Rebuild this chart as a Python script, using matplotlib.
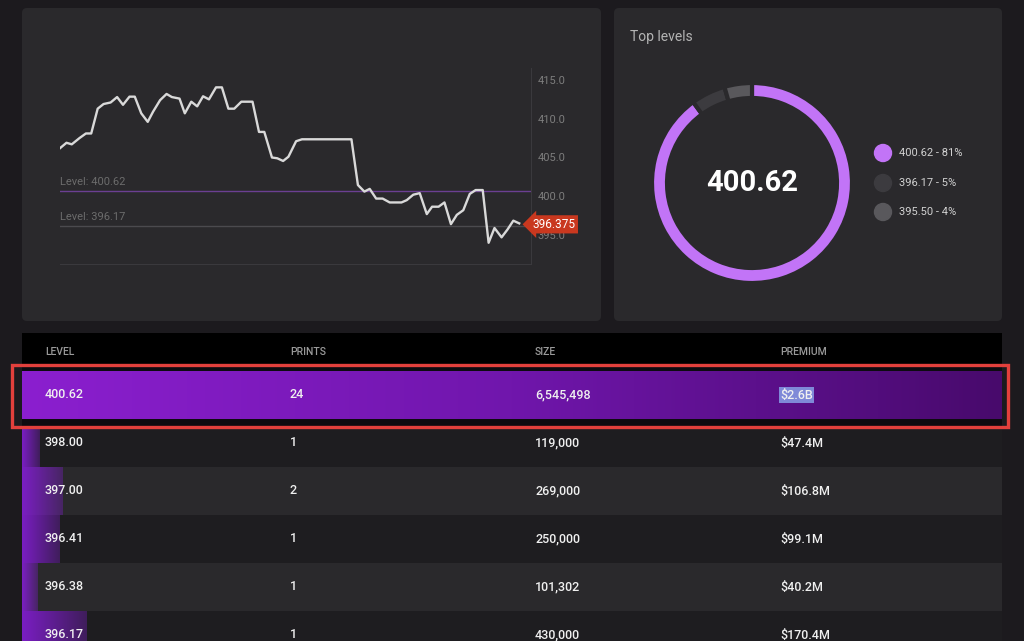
import matplotlib.pyplot as plt
import matplotlib.transforms as mtransforms
from matplotlib.patches import FancyBboxPatch, Rectangle
import numpy as np

plt.rcParams['font.family'] = ['Roboto', 'DejaVu Sans']

# price line (x = chart minutes, y = price)
t = [0, 1.1, 2.0, 3.3, 4.4, 5.3, 6.4, 7.4, 8.6, 9.7, 10.7, 11.8, 12.7, 13.8,
     14.9, 15.8, 17.0, 18.1, 19.0, 20.3, 21.2, 22.3, 23.3, 24.3, 25.3, 26.5,
     27.5, 28.6, 29.6, 30.8, 32.7, 33.8, 34.7, 36.0, 36.9, 37.9, 38.8, 40.1,
     41.1, 49.5, 50.6, 51.7, 52.6, 53.7, 54.8, 56.0, 58.0, 58.9, 60.0, 61.1,
     62.3, 63.2, 64.3, 65.3, 66.4, 67.4, 68.5, 69.6, 70.6, 71.8, 72.8, 73.8,
     75.0, 76.0, 77.0, 78.0]
price = [406.2, 406.9, 406.7, 407.5, 408.1, 408.1, 411.3, 411.9, 412.1, 412.8,
         411.8, 412.85, 412.85, 410.7, 409.6, 410.9, 412.4, 413.2, 412.8, 412.6,
         410.7, 412.2, 411.6, 412.9, 412.5, 414.05, 414.05, 411.3, 411.3, 412.2,
         412.2, 408.3, 408.3, 405.0, 404.9, 404.55, 405.1, 407.1, 407.35, 407.35,
         401.45, 400.6, 400.95, 399.7, 399.7, 399.2, 399.2, 399.5, 400.2, 400.4,
         397.7, 398.65, 398.65, 399.2, 396.4, 397.6, 398.2, 400.3, 400.8, 400.8,
         394.0, 395.9, 394.7, 395.7, 396.85, 396.5]
last_price = 396.375
levels = [400.62, 396.17]
price_ticks = [395.0, 400.0, 405.0, 410.0, 415.0]

# donut: top levels
top_levels = ['400.62', '396.17', '395.50']
top_pct = [81, 5, 4]

# table
col_names = ['LEVEL', 'PRINTS', 'SIZE', 'PREMIUM']
row_level = ['400.62', '398.00', '397.00', '396.41', '396.38', '396.17']
row_prints = [24, 1, 2, 1, 1, 1]
row_size = [6545498, 119000, 269000, 250000, 101302, 430000]
row_premium = ['$2.6B', '$47.4M', '$106.8M', '$99.1M', '$40.2M', '$170.4M']

W, H = 1024, 641
PAGE = '#1c1a1e'
PANEL = '#2a292c'
DARKROW = '#1e1d20'
PURPLE = '#c274f7'

fig = plt.figure(figsize=(W / 100, H / 100), dpi=100)
fig.patch.set_facecolor(PAGE)

# pixel-space background axes for panels and the table
bg = fig.add_axes([0, 0, 1, 1])
bg.set_xlim(0, W)
bg.set_ylim(H, 0)
bg.axis('off')

bg.add_patch(FancyBboxPatch((22, 8), 579, 313, boxstyle='round,pad=0,rounding_size=5',
                            fc=PANEL, ec='none'))
bg.add_patch(FancyBboxPatch((614, 8), 388, 313, boxstyle='round,pad=0,rounding_size=5',
                            fc=PANEL, ec='none'))

# ---- table ----
tx0, tx1 = 22, 1002
row_h = 48
row0 = 371
col_x = [45, 290, 535, 780]

bg.add_patch(Rectangle((tx0, 333), tx1 - tx0, 34, fc='black', ec='none'))
for name, cx in zip(col_names, col_x):
    bg.text(cx, 352, name, color='#9a9a9a', fontsize=7.5, fontweight='medium',
            va='center', ha='left')

for i in range(1, len(row_level)):
    top = row0 + i * row_h
    bg.add_patch(Rectangle((tx0, top), tx1 - tx0, row_h,
                           fc=PANEL if i % 2 == 0 else DARKROW, ec='none'))
    # size bar relative to biggest level
    bw = row_size[i] / max(row_size) * (tx1 - tx0)
    grad = np.zeros((1, 64, 4))
    grad[..., 0] = 0.50
    grad[..., 1] = 0.12
    grad[..., 2] = 0.80
    grad[..., 3] = np.linspace(0.95, 0.35, 64)
    bg.imshow(grad, extent=(tx0, tx0 + bw, top + row_h, top), aspect='auto',
              interpolation='bilinear', zorder=1)

# highlighted first row
bg.add_patch(Rectangle((tx0, 365), tx1 - tx0, 62, fc='#0d0b10', ec='none', zorder=1))
c_left = np.array([139, 31, 207]) / 255
c_mid = np.array([112, 22, 172]) / 255
c_right = np.array([72, 10, 108]) / 255
s = np.linspace(0, 1, 256)[:, None]
grad1 = np.where(s < 0.5, c_left + (c_mid - c_left) * (s / 0.5),
                 c_mid + (c_right - c_mid) * ((s - 0.5) / 0.5))
bg.imshow(grad1[None, :, :], extent=(tx0, tx1, row0 + row_h, row0), aspect='auto',
          interpolation='bilinear', zorder=1.5)
bg.add_patch(Rectangle((12, 365), 996, 62, fc='none', ec='#e2403c', lw=2.4, zorder=3))

for i in range(len(row_level)):
    cy = row0 + i * row_h + 24
    vals = [row_level[i], str(row_prints[i]), f'{row_size[i]:,}', row_premium[i]]
    for j, (v, cx) in enumerate(zip(vals, col_x)):
        kw = {}
        if i == 0 and j == 3:
            kw['bbox'] = dict(boxstyle='square,pad=0.12', fc='#7f89d8', ec='none')
        bg.text(cx, cy, v, color='#f0f0f0', fontsize=9, fontweight='medium',
                va='center', ha='left', zorder=4, **kw)

bg.set_xlim(0, W)
bg.set_ylim(H, 0)

# ---- price line chart ----
px_per = (235 - 80) / 20.0
y_lo = 395 - (264 - 235) / px_per
y_hi = 416.5
top_px = 235 - (y_hi - 395) * px_per
ax = fig.add_axes([60 / W, 1 - 264 / H, (531 - 60) / W, (264 - top_px) / H])
ax.set_facecolor('none')
ax.plot(t, price, color='#d9d9d9', lw=1.7, zorder=3)
ax.set_xlim(0, 80)
ax.set_ylim(y_lo, y_hi)
for sp in ['top', 'left']:
    ax.spines[sp].set_visible(False)
for sp in ['right', 'bottom']:
    ax.spines[sp].set_color('#3a393d')
    ax.spines[sp].set_linewidth(0.8)
ax.set_xticks([])
ax.yaxis.tick_right()
ax.set_yticks(price_ticks)
ax.set_yticklabels([f'{v:.1f}' for v in price_ticks])
ax.tick_params(axis='y', length=0, pad=5, labelcolor='#7d7d7d', labelsize=8)

level_colors = ['#6b3f92', '#4b4a4e']
for lv, lc in zip(levels, level_colors):
    ax.axhline(lv, color=lc, lw=1, zorder=2)
    ax.annotate(f'Level: {lv}', (0, lv), xytext=(0, 3), textcoords='offset points',
                va='bottom', ha='left', color='#6c6c6c', fontsize=8)

tr = mtransforms.blended_transform_factory(ax.transAxes, ax.transData)
ax.annotate(f'{last_price}', (1.0, last_price), xycoords=tr, xytext=(1, 0),
            textcoords='offset points', va='center', ha='left', color='white',
            fontsize=8.5, annotation_clip=False, zorder=5,
            bbox=dict(boxstyle='larrow,pad=0.22', fc='#c9381f', ec='none'))

# ---- donut ----
cx, cy, r = 752, 183, 100
pa = fig.add_axes([(cx - r) / W, 1 - (cy + r) / H, 2 * r / W, 2 * r / H])
pa.pie(top_pct, colors=[PURPLE, '#3c3b3f', '#59585c'], startangle=90,
       counterclock=False, radius=1.0,
       wedgeprops=dict(width=0.15, edgecolor=PANEL, linewidth=3))
pa.set_xlim(-1, 1)
pa.set_ylim(-1, 1)
pa.text(0, 0, top_levels[0], ha='center', va='center', color='white',
        fontsize=21, fontweight='bold')

bg.text(630, 37, 'Top levels', color='#b4b4b4', fontsize=10, va='center', ha='left')
leg_y = [153, 183, 212]
bg.scatter([883] * 3, leg_y, s=150, c=[PURPLE, '#3c3b3f', '#59585c'], zorder=3)
for lv, p, ly in zip(top_levels, top_pct, leg_y):
    bg.text(899, ly, f'{lv} - {p}%', color='#d2d2d2', fontsize=8, va='center', ha='left')
bg.set_xlim(0, W)
bg.set_ylim(H, 0)

fig.savefig('out.png', dpi=100, facecolor=fig.get_facecolor())
